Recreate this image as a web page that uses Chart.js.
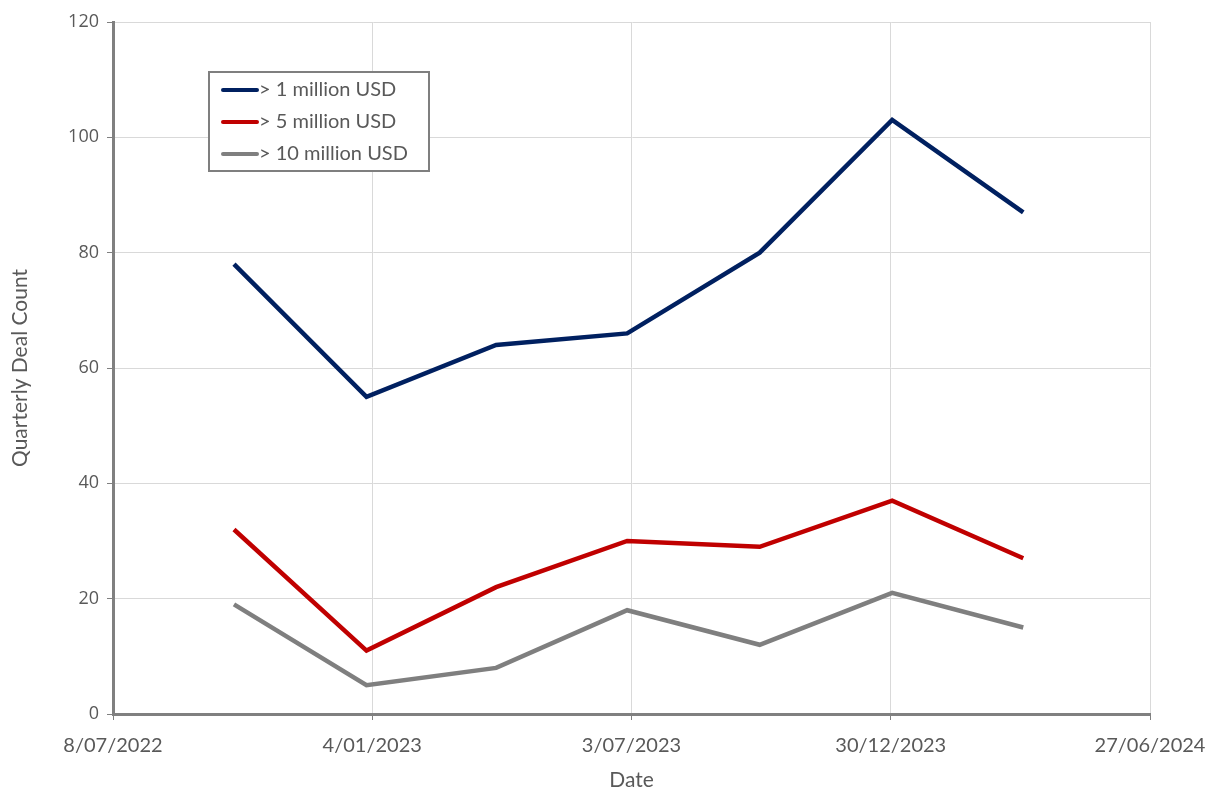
<!DOCTYPE html>
<html>
<head>
<meta charset="utf-8">
<script src="https://cdn.jsdelivr.net/npm/chart.js@4/dist/chart.umd.min.js"></script>
<style>
html,body{margin:0;padding:0;background:#fff;}
#wrap{width:1222px;height:799px;position:relative;}
</style>
</head>
<body>
<div id="wrap"><canvas id="c" width="1222" height="799"></canvas></div>
<script>
// ---- data ----
const dates = ['2022-09-30','2022-12-31','2023-03-31','2023-06-30','2023-09-30','2023-12-31','2024-03-31'];
const seriesNames = ['> 1 million USD','> 5 million USD','> 10 million USD'];
const over1m  = [78, 55, 64, 66, 80, 103, 87];
const over5m  = [32, 11, 22, 30, 29, 37, 27];
const over10m = [19, 5, 8, 18, 12, 21, 15];
const xMinDate = '2022-07-08';
const xMaxDate = '2024-06-27';
const xStepDays = 180;
const yMin = 0, yMax = 120, yStep = 20;
const seriesColors = ['#002060','#C00000','#7F7F7F'];

// Excel-style day serial
function serial(s){ return Date.UTC(+s.slice(0,4), +s.slice(5,7)-1, +s.slice(8,10))/86400000 + 25569; }
function fmt(v){
  const d = new Date((v-25569)*86400000);
  return d.getUTCDate() + '/' + String(d.getUTCMonth()+1).padStart(2,'0') + '/' + d.getUTCFullYear();
}
const allSeries = [over1m, over5m, over10m];
const datasets = allSeries.map((vals,i)=>({
  label: seriesNames[i],
  data: vals.map((v,j)=>({x: serial(dates[j]), y: v})),
  borderColor: seriesColors[i],
  backgroundColor: seriesColors[i],
  borderWidth: 4.5,
  pointRadius: 0,
  tension: 0,
  fill: false
}));

const textColor = '#595959';
const legendPlugin = {
  id: 'boxLegend',
  afterDraw(chart){
    const ctx = chart.ctx;
    const ca = chart.chartArea;
    const x0 = ca.left + 96, y0 = ca.top + 50, w = 220, h = 99;
    ctx.save();
    ctx.fillStyle = '#fff';
    ctx.fillRect(x0, y0, w, h);
    ctx.strokeStyle = '#7F7F7F';
    ctx.lineWidth = 2;
    ctx.strokeRect(x0, y0, w, h);
    ctx.font = '20px Lato, "Open Sans", sans-serif';
    ctx.textBaseline = 'middle';
    chart.data.datasets.forEach((ds,i)=>{
      const yy = y0 + 18 + i*32;
      ctx.strokeStyle = ds.borderColor;
      ctx.lineWidth = 4;
      ctx.lineCap = 'round';
      ctx.beginPath();
      ctx.moveTo(x0 + 14, yy);
      ctx.lineTo(x0 + 48, yy);
      ctx.stroke();
      ctx.fillStyle = textColor;
      ctx.fillText(ds.label, x0 + 50, yy);
    });
    ctx.restore();
  }
};

new Chart(document.getElementById('c'), {
  type: 'line',
  data: { datasets },
  plugins: [legendPlugin],
  options: {
    responsive: false,
    animation: false,
    layout: { padding: { left: 0, right: 72, top: 22, bottom: 0 } },
    plugins: { legend: { display: false }, tooltip: { enabled: false } },
    scales: {
      x: {
        type: 'linear',
        min: serial(xMinDate),
        max: serial(xMaxDate),
        afterBuildTicks(scale){
          const t = [];
          for (let v = scale.min; v <= scale.max + 0.5; v += xStepDays) t.push({value: v});
          scale.ticks = t;
        },
        afterFit(scale){ scale.height = 85; },
        ticks: {
          callback: (v)=>fmt(v),
          color: textColor,
          font: { family: 'Lato, "Open Sans", sans-serif', size: 20 },
          maxRotation: 0,
          autoSkip: false,
          padding: 14
        },
        grid: { color: '#D9D9D9', lineWidth: 1, tickLength: 6, tickColor: '#808080' },
        border: { color: '#808080', width: 3 },
        title: {
          display: true, text: 'Date', color: textColor,
          font: { family: 'Lato, "Open Sans", sans-serif', size: 21 },
          padding: { top: 0, bottom: 6 }
        }
      },
      y: {
        min: yMin, max: yMax,
        afterFit(scale){ scale.width = 113; },
        ticks: {
          stepSize: yStep,
          color: textColor,
          font: { family: '"Open Sans", sans-serif', size: 18 },
          padding: 8
        },
        grid: { color: '#D9D9D9', lineWidth: 1, tickLength: 6, tickColor: '#808080' },
        border: { color: '#808080', width: 3 },
        title: {
          display: true, text: 'Quarterly Deal Count', color: textColor,
          font: { family: 'Lato, "Open Sans", sans-serif', size: 21 },
          padding: { top: 8, bottom: 10 }
        }
      }
    }
  }
});
</script>
</body>
</html>
